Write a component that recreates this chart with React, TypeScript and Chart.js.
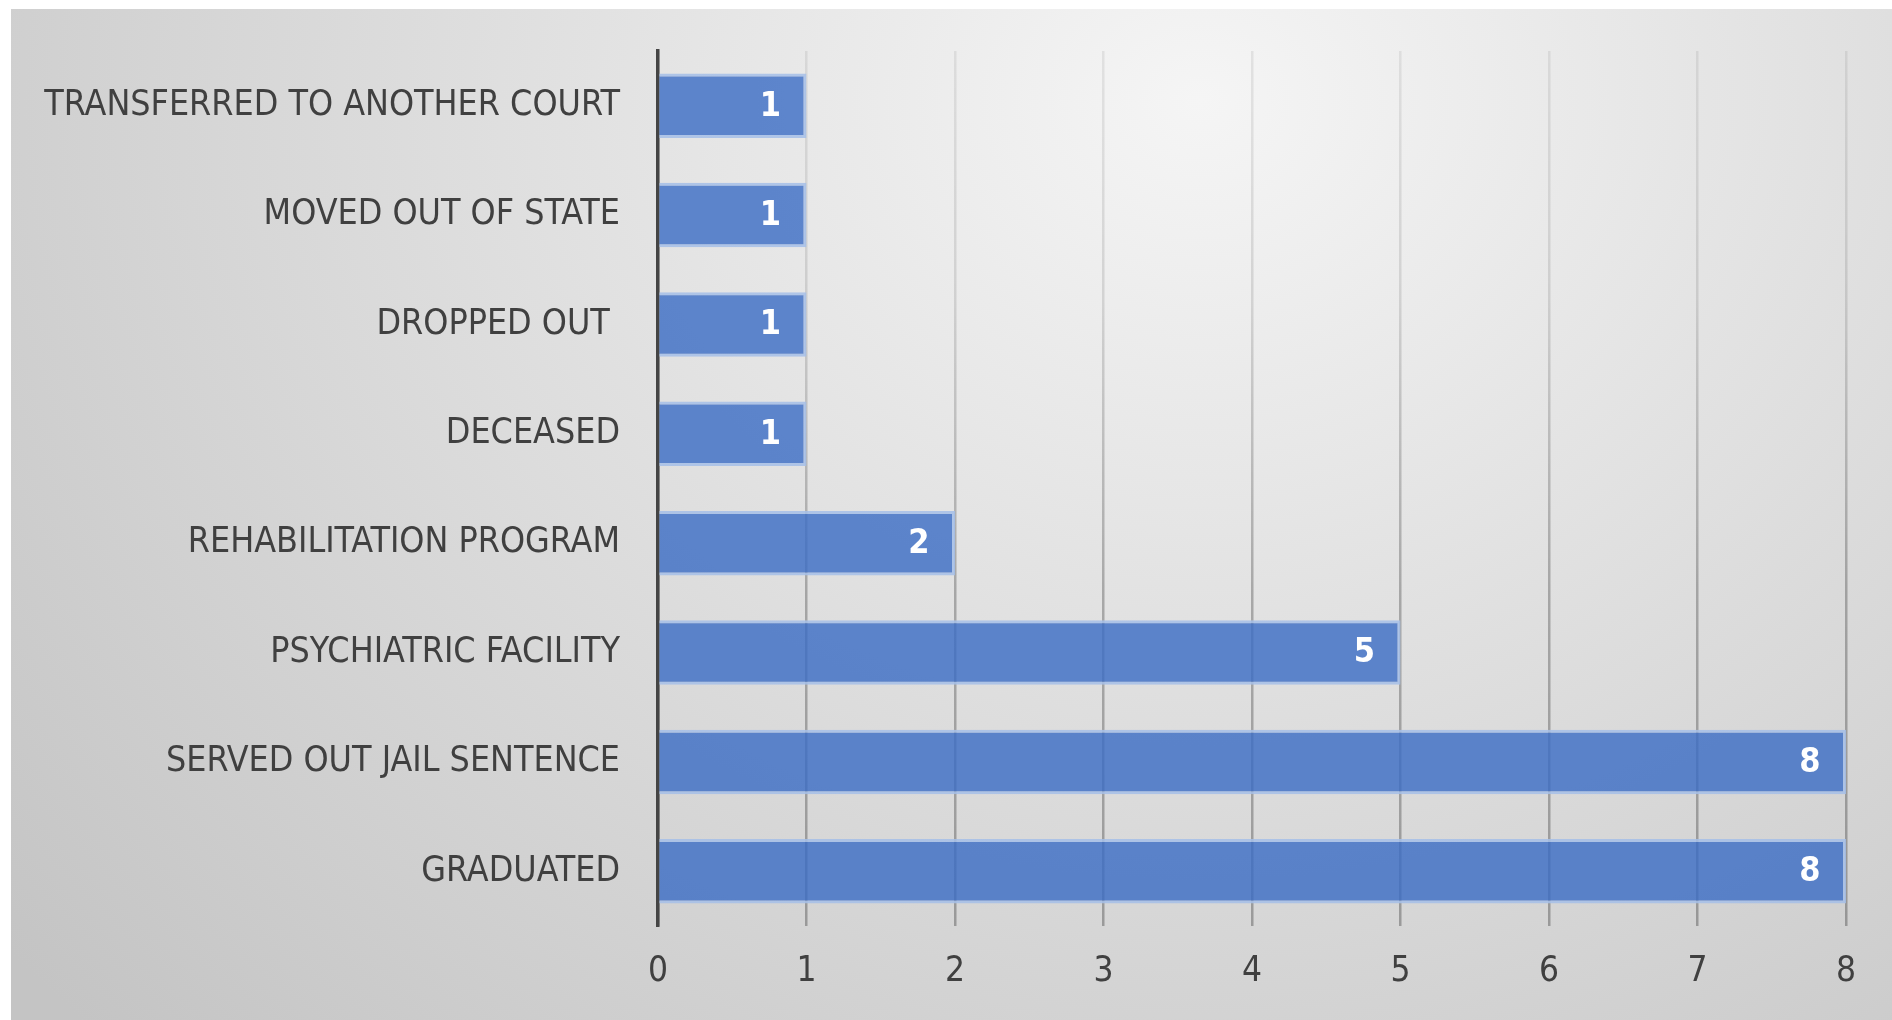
import React, { useEffect, useRef } from "react";
import { Chart, registerables } from "chart.js";

Chart.register(...registerables);

const categories = [
  "TRANSFERRED TO ANOTHER COURT",
  "MOVED OUT OF STATE",
  "DROPPED OUT ",
  "DECEASED",
  "REHABILITATION PROGRAM",
  "PSYCHIATRIC FACILITY",
  "SERVED OUT JAIL SENTENCE",
  "GRADUATED",
];
const counts = [1, 1, 1, 1, 2, 5, 8, 8];
const xTicks = [0, 1, 2, 3, 4, 5, 6, 7, 8];

const FONT = "'Liberation Sans Narrow', 'DejaVu Sans Condensed', 'Arial Narrow', sans-serif";
const CANVAS_W = 1881;
const CANVAS_H = 1011;

const valueLabels = {
  id: "valueLabels",
  afterDatasetsDraw(chart: any) {
    const ctx = chart.ctx;
    const meta = chart.getDatasetMeta(0);
    ctx.save();
    ctx.fillStyle = "#ffffff";
    ctx.font = `bold 34px ${FONT}`;
    ctx.textAlign = "center";
    ctx.textBaseline = "middle";
    meta.data.forEach((el: any, i: number) => {
      const v = chart.data.datasets[0].data[i];
      ctx.fillText(String(v), el.x - 36, el.y + 1);
    });
    ctx.restore();
  },
};

let gridGrad: any = null;
function gridColor(c: any) {
  const ctx = c.chart.ctx;
  if (!gridGrad) {
    const g = ctx.createLinearGradient(0, 42, 0, 917);
    g.addColorStop(0, "rgba(0,0,0,0.07)");
    g.addColorStop(0.28, "rgba(0,0,0,0.11)");
    g.addColorStop(0.62, "rgba(0,0,0,0.26)");
    g.addColorStop(1, "rgba(0,0,0,0.28)");
    gridGrad = g;
  }
  return gridGrad;
}

export default function App() {
  const ref = useRef<HTMLCanvasElement>(null);
  useEffect(() => {
    if (!ref.current) return;
    gridGrad = null;
    const chart = new Chart(ref.current, {
      type: "bar",
      data: {
        labels: categories,
        datasets: [
          {
            data: counts,
            backgroundColor: "rgba(58,108,196,0.8)",
            borderColor: "rgba(165,190,232,0.85)",
            borderWidth: 3,
            borderSkipped: "start",
            barPercentage: 0.59,
            categoryPercentage: 1,
          },
        ],
      },
      options: {
        indexAxis: "y",
        responsive: false,
        animation: false,
        layout: { padding: { top: 42, right: 46, left: 0, bottom: 0 } },
        plugins: { legend: { display: false }, tooltip: { enabled: false } },
        scales: {
          x: {
            min: 0,
            max: 8,
            afterFit: (s: any) => {
              s.height = 94;
            },
            afterBuildTicks: (s: any) => {
              s.ticks = xTicks.map((v) => ({ value: v }));
            },
            grid: {
              drawTicks: false,
              color: gridColor,
              lineWidth: 2.5,
            },
            border: { display: false },
            ticks: {
              padding: 25,
              color: "#404040",
              font: { family: FONT, size: 35 },
            },
          },
          y: {
            afterFit: (s: any) => {
              s.width = 647;
              s.paddingTop = 0;
              s.paddingBottom = 0;
            },
            grid: { display: false, drawTicks: false },
            border: { display: true, color: "#454545", width: 3.5 },
            ticks: {
              padding: 38,
              color: "#404040",
              font: { family: FONT, size: 35.5 },
            },
          },
        },
      },
      plugins: [valueLabels],
    });
    return () => chart.destroy();
  }, []);

  return (
    <div
      style={{
        position: "fixed",
        left: 11,
        top: 9,
        width: CANVAS_W,
        height: CANVAS_H,
        background:
          "radial-gradient(ellipse 1560px 1320px at 1189px 91px, #f5f5f5 0%, #c4c4c4 100%)",
      }}
    >
      <canvas
        ref={ref}
        width={CANVAS_W}
        height={CANVAS_H}
        style={{ display: "block", width: CANVAS_W, height: CANVAS_H }}
      />
    </div>
  );
}
